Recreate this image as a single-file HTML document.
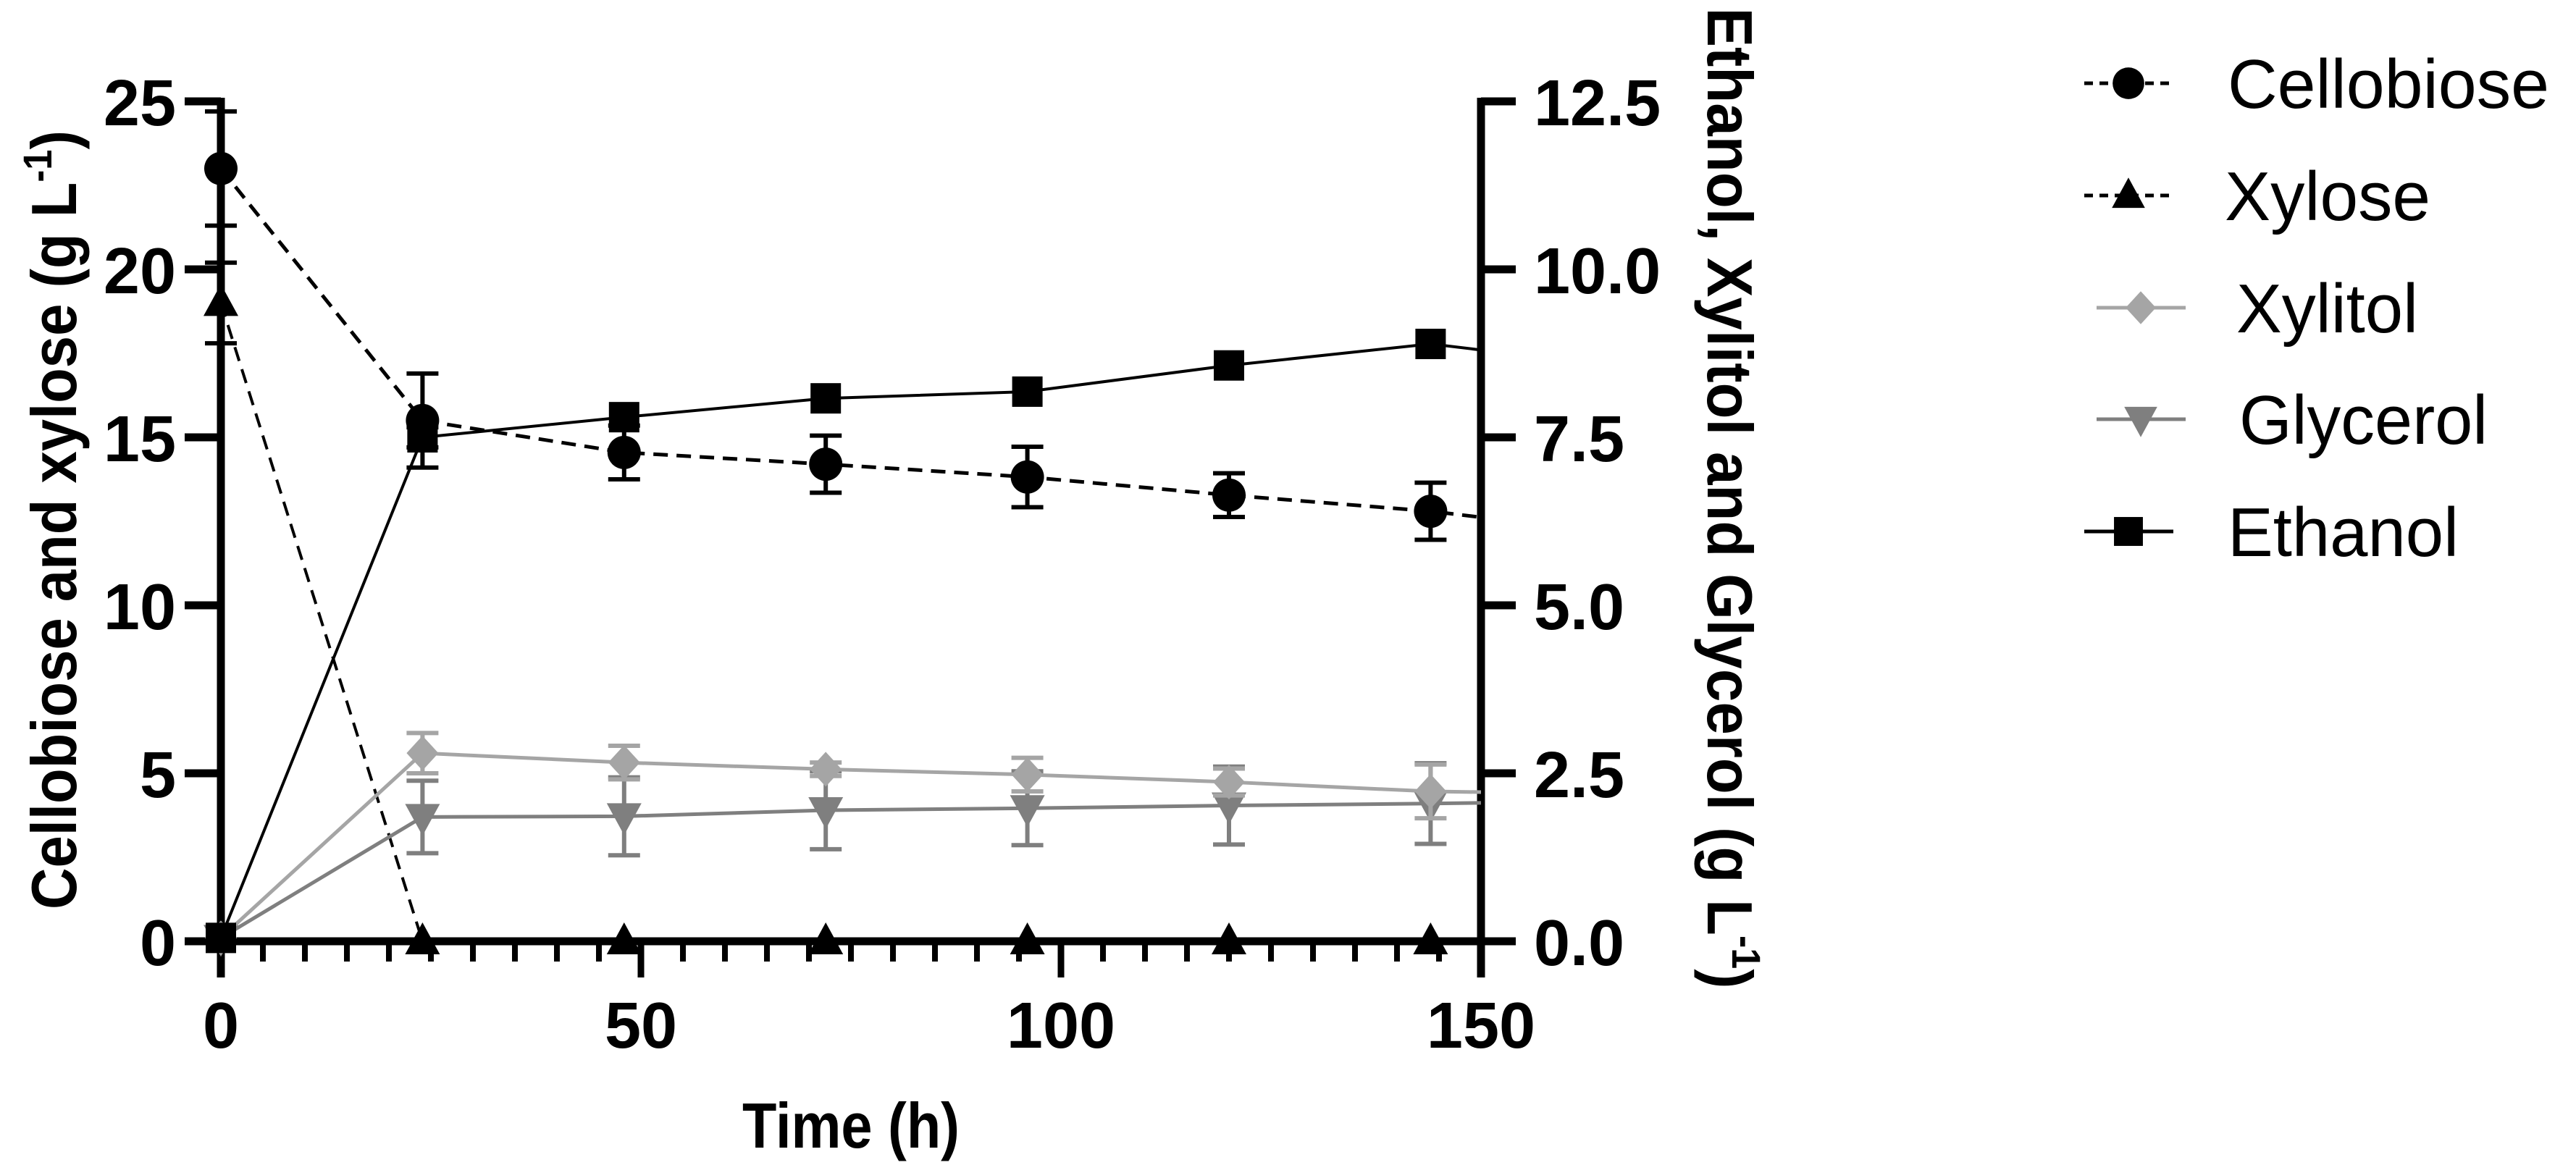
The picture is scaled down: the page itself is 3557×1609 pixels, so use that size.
<!DOCTYPE html>
<html><head><meta charset="utf-8"><style>
html,body{margin:0;padding:0;background:#fff;}
svg{display:block;font-family:"Liberation Sans",Arial,sans-serif;}
</style></head><body>
<svg id="chart" width="3557" height="1609" viewBox="0 0 3557 1609" xmlns="http://www.w3.org/2000/svg">
<defs><clipPath id="plotclip"><rect x="200" y="0" width="1845" height="1400"/></clipPath></defs>
<g id="axes"></g>
<g id="series" clip-path="url(#plotclip)"></g>
<text x="1175" y="1585" font-size="88" font-weight="bold" text-anchor="middle" textLength="300" lengthAdjust="spacingAndGlyphs">Time (h)</text>
<text transform="translate(105,718) rotate(-90)" font-size="88" font-weight="bold" text-anchor="middle" textLength="1076" lengthAdjust="spacingAndGlyphs">Cellobiose and xylose (g L<tspan font-size="56" dy="-34">-1</tspan><tspan dy="34">)</tspan></text>
<text transform="translate(2358,688) rotate(90)" font-size="88" font-weight="bold" text-anchor="middle" textLength="1355" lengthAdjust="spacingAndGlyphs">Ethanol, Xylitol and Glycerol (g L<tspan font-size="56" dy="-34">-1</tspan><tspan dy="34">)</tspan></text>
<g id="legend"></g>
</svg>
<script>
const times = [0, 24, 48, 72, 96, 120, 144, 150];
const cellobiose = [23.0, 15.5, 14.55, 14.2, 13.82, 13.28, 12.8, 12.62];
const cellobioseErr = [1.7, 1.4, 0.8, 0.85, 0.9, 0.65, 0.85, 0];
const xylose = [19.0, 0, 0, 0, 0, 0, 0, 0];
const xyloseErr = [1.2, 0, 0, 0, 0, 0, 0, 0];
const xylitol = [0.05, 2.8, 2.66, 2.56, 2.48, 2.37, 2.23, 2.22];
const xylitolErr = [0, 0.3, 0.25, 0.1, 0.25, 0.2, 0.4, 0];
const glycerol = [0.05, 1.85, 1.86, 1.95, 1.98, 2.02, 2.05, 2.06];
const glycerolErr = [0, 0.54, 0.58, 0.58, 0.55, 0.58, 0.6, 0];
const ethanol = [0.05, 7.5, 7.8, 8.08, 8.18, 8.57, 8.89, 8.8];
const ethanolErr = [0, 0.15, 0, 0, 0, 0, 0, 0];
const xTicks = [0, 50, 100, 150];
const leftTicks = [0, 5, 10, 15, 20, 25];
const rightTicks = ["0.0", "2.5", "5.0", "7.5", "10.0", "12.5"];

const NS = "http://www.w3.org/2000/svg";
const X0 = 305, X1 = 2045, Y0 = 1300, YT = 140;
const X = t => X0 + t * (X1 - X0) / 150;
const YL = v => Y0 - v * (Y0 - YT) / 25;
const YR = v => Y0 - v * (Y0 - YT) / 12.5;
function mk(tag, attrs, parent) {
  const e = document.createElementNS(NS, tag);
  for (const k in attrs) e.setAttribute(k, attrs[k]);
  parent.appendChild(e);
  return e;
}
const axes = document.getElementById('axes');
const ser = document.getElementById('series');
const leg = document.getElementById('legend');

let el = mk('line', {x1: X0, y1: YT - 5, x2: X0, y2: 1350, stroke: '#000', 'stroke-width': 11}, axes);


el = mk('line', {x1: X1, y1: YT - 5, x2: X1, y2: 1350, stroke: '#000', 'stroke-width': 11}, axes);


el = mk('line', {x1: 255, y1: Y0, x2: 2093, y2: Y0, stroke: '#000', 'stroke-width': 11}, axes);



for (let t = 5; t < 150; t += 5) {
  if (t % 50 === 0) continue;
  el = mk('line', {x1: X(t), y1: Y0, x2: X(t), y2: 1328, stroke: '#000', 'stroke-width': 8}, axes);
  
  
}
xTicks.forEach(t => {
  el = mk('line', {x1: X(t), y1: Y0, x2: X(t), y2: 1350, stroke: '#000', 'stroke-width': 9}, axes);
  
  
  el = mk('text', {x: X(t), y: 1447, 'font-size': 90, 'font-weight': 'bold', 'text-anchor': 'middle'}, axes);
  el.textContent = String(t);
  
  
});
leftTicks.forEach(v => {
  el = mk('line', {x1: 255, y1: YL(v), x2: X0, y2: YL(v), stroke: '#000', 'stroke-width': 11}, axes);
  
  
  el = mk('text', {x: 243, y: YL(v) + 33, 'font-size': 90, 'font-weight': 'bold', 'text-anchor': 'end'}, axes);
  el.textContent = String(v);
  
  
});
rightTicks.forEach(s => {
  const v = parseFloat(s);
  el = mk('line', {x1: X1, y1: YR(v), x2: 2093, y2: YR(v), stroke: '#000', 'stroke-width': 11}, axes);
  
  
  el = mk('text', {x: 2118, y: YR(v) + 33, 'font-size': 90, 'font-weight': 'bold', 'text-anchor': 'start'}, axes);
  el.textContent = s;
  
  
});

function marker(shape, cx, cy, fill, parent, size) {
  const s = size || 1;
  if (shape === 'circle') return mk('circle', {cx, cy, r: 23 * s, fill}, parent);
  if (shape === 'square') return mk('rect', {x: cx - 21 * s, y: cy - 21 * s, width: 42 * s, height: 42 * s, fill}, parent);
  if (shape === 'tri') return mk('polygon', {points: `${cx},${cy - 26 * s} ${cx + 24 * s},${cy + 18 * s} ${cx - 24 * s},${cy + 18 * s}`, fill}, parent);
  if (shape === 'tridown') return mk('polygon', {points: `${cx},${cy + 26 * s} ${cx + 24 * s},${cy - 18 * s} ${cx - 24 * s},${cy - 18 * s}`, fill}, parent);
  if (shape === 'diamond') return mk('polygon', {points: `${cx},${cy - 24 * s} ${cx + 22 * s},${cy} ${cx},${cy + 24 * s} ${cx - 22 * s},${cy}`, fill}, parent);
}

function drawSeries(name, vals, errs, yf, color, dash, shape, lw) {
  const g = mk('g', {}, ser);
  
  
  times.forEach((t, i) => {
    if (t >= 150 || !errs[i]) return;
    const x = X(t), a = yf(vals[i] + errs[i]), b = yf(vals[i] - errs[i]);
    const eb = mk('path', {d: `M${x},${a}V${b}M${x - 22},${a}H${x + 22}M${x - 22},${b}H${x + 22}`, stroke: color, 'stroke-width': 6, fill: 'none'}, g);
    
    
  });
  const pts = times.map((t, i) => X(t) + ',' + yf(vals[i])).join(' ');
  const attrs = {points: pts, fill: 'none', stroke: color, 'stroke-width': lw};
  if (dash) attrs['stroke-dasharray'] = '20 12';
  const pl = mk('polyline', attrs, g);
  
  
  times.forEach((t, i) => {
    if (t >= 150) return;
    const m = marker(shape, X(t), yf(vals[i]), color, g);
    
    
  });
}
drawSeries('xylose', xylose, xyloseErr, YL, '#000', true, 'tri', 4);
drawSeries('glycerol', glycerol, glycerolErr, YR, '#7f7f7f', false, 'tridown', 5);
drawSeries('xylitol', xylitol, xylitolErr, YR, '#a5a5a5', false, 'diamond', 5);
drawSeries('ethanol', ethanol, ethanolErr, YR, '#000', false, 'square', 4);
drawSeries('cellobiose', cellobiose, cellobioseErr, YL, '#000', true, 'circle', 5);

const legendNames = ['Cellobiose', 'Xylose', 'Xylitol', 'Glycerol', 'Ethanol'];
const legendShapes = ['circle', 'tri', 'diamond', 'tridown', 'square'];
const legendColors = ['#000', '#000', '#a5a5a5', '#7f7f7f', '#000'];
const legendDash = [true, true, false, false, false];
const legendY = [115, 270, 425, 579, 734];
const legendLineX = [2878, 2878, 2895, 2895, 2878];
const legendTextX = [3076, 3072, 3088, 3092, 3076];
const legendTextW = [444, 284, 251, 343, 319];
legendNames.forEach((n, i) => {
  const g = mk('g', {}, leg);
  
  
  const la = {x1: legendLineX[i], y1: legendY[i], x2: legendLineX[i] + 123, y2: legendY[i], stroke: legendColors[i], 'stroke-width': 5};
  if (legendDash[i]) la['stroke-dasharray'] = '12 9';
  mk('line', la, g);
  marker(legendShapes[i], legendLineX[i] + 61, legendY[i], legendColors[i], g, 0.95);
  const t = mk('text', {x: legendTextX[i], y: legendY[i] + 34, 'font-size': 96, textLength: legendTextW[i], lengthAdjust: 'spacingAndGlyphs'}, g);
  t.textContent = n;
  
  
});
</script>
</body></html>
